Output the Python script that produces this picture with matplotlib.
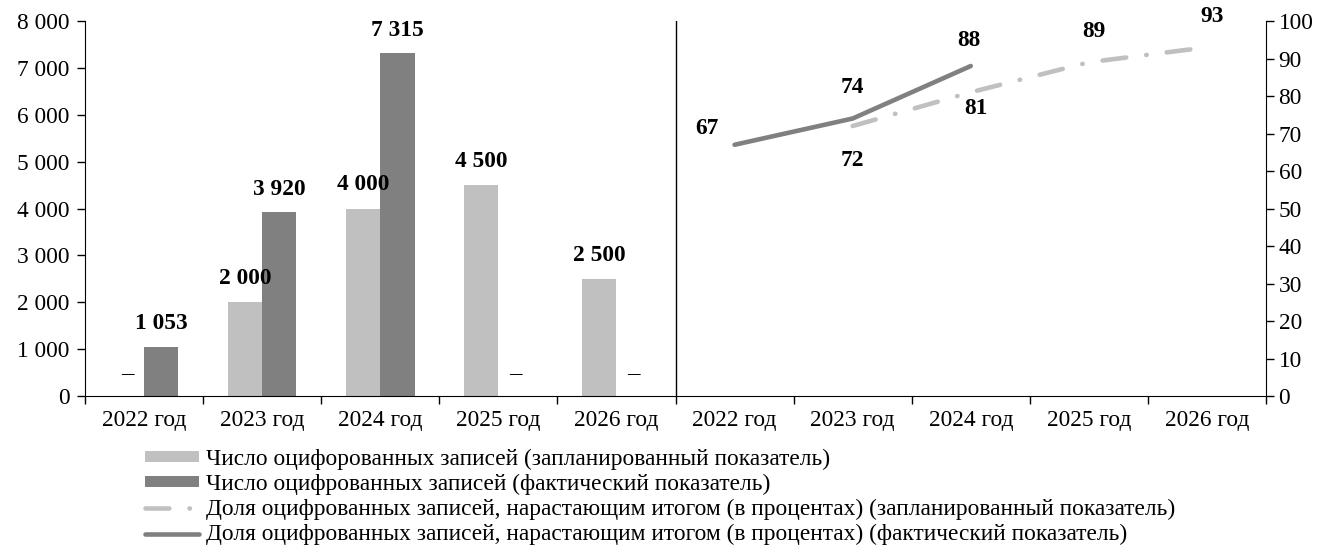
import numpy as np
import matplotlib
matplotlib.use("Agg")
import matplotlib.pyplot as plt
from matplotlib.ticker import FuncFormatter, FixedLocator

plt.rcParams['font.family'] = ['Liberation Serif', 'DejaVu Serif']

years = ["2022 год", "2023 год", "2024 год", "2025 год", "2026 год"]
count_plan = [None, 2000, 4000, 4500, 2500]
count_fact = [1053, 3920, 7315, None, None]
share_plan = [None, 72, 81, 89, 93]
share_fact = [67, 74, 88, None, None]

labels = [
    "Число оцифорованных записей (запланированный показатель)",
    "Число оцифрованных записей (фактический показатель)",
    "Доля оцифрованных записей, нарастающим итогом (в процентах) (запланированный показатель)",
    "Доля оцифрованных записей, нарастающим итогом (в процентах) (фактический показатель)",
]

LIGHT = "#c0c0c0"
DARK = "#808080"
FS = 16.8


def fmt_thousands(v, pos):
    return f"{int(v):,}".replace(",", " ")


def main():
    fig = plt.figure(figsize=(13.2, 5.46), dpi=100)
    ax = fig.add_axes([0.0644, 0.2747, 0.8947, 0.6868])
    ax2 = ax.twinx()

    n = len(years)
    x_bar = np.arange(n)
    w = 0.29

    # bars
    hp = None
    hf = None
    for i in range(n):
        if count_plan[i] is not None:
            hp = ax.bar(x_bar[i] - w / 2, count_plan[i], w, color=LIGHT)
            ax.annotate(fmt_thousands(count_plan[i], None), (x_bar[i] - w / 2, count_plan[i]),
                        xytext=(0, 17), textcoords="offset points", ha="center", va="center",
                        fontsize=FS, fontweight="bold")
        else:
            ax.annotate("–", (x_bar[i] - w / 2, 0), xytext=(0, 16.5), textcoords="offset points",
                        ha="center", va="center", fontsize=FS + 1)
        if count_fact[i] is not None:
            hf = ax.bar(x_bar[i] + w / 2, count_fact[i], w, color=DARK)
            ax.annotate(fmt_thousands(count_fact[i], None), (x_bar[i] + w / 2, count_fact[i]),
                        xytext=(0, 16.5), textcoords="offset points", ha="center", va="center",
                        fontsize=FS, fontweight="bold")
        else:
            ax.annotate("–", (x_bar[i] + w / 2, 0), xytext=(0, 16.5), textcoords="offset points",
                        ha="center", va="center", fontsize=FS + 1)

    # lines on the right half
    x_line = np.arange(n) + n
    xp = [x_line[i] for i in range(n) if share_plan[i] is not None]
    yp = [v for v in share_plan if v is not None]
    xf = [x_line[i] for i in range(n) if share_fact[i] is not None]
    yf = [v for v in share_fact if v is not None]
    lp, = ax2.plot(xp, yp, color=LIGHT, lw=3.3, dashes=(5.2, 4.4, 0.1, 4.4),
                   dash_capstyle="round", solid_capstyle="round")
    lf, = ax2.plot(xf, yf, color=DARK, lw=3.3, solid_capstyle="round")

    # line labels
    offs_plan = {72: (0, -24.5), 81: (3.5, -12), 89: (3.6, 22.5), 93: (3.6, 22.5)}
    for x, y in zip(xp, yp):
        dx, dy = offs_plan[y]
        ax2.annotate(str(y), (x, y), xytext=(dx, dy), textcoords="offset points",
                     ha="center", va="center", fontsize=FS, fontweight="bold")
    offs_fact = {67: (-20, 12), 74: (0, 22), 88: (-1.4, 18.2)}
    for x, y in zip(xf, yf):
        dx, dy = offs_fact[y]
        ax2.annotate(str(y), (x, y), xytext=(dx, dy), textcoords="offset points",
                     ha="center", va="center", fontsize=FS, fontweight="bold")

    # axes
    ax.set_xlim(-0.5, 2 * n - 0.5)
    ax.set_ylim(0, 8000)
    ax2.set_ylim(0, 100)
    ax.set_yticks(np.arange(0, 8001, 1000))
    ax.yaxis.set_major_formatter(FuncFormatter(fmt_thousands))
    ax2.set_yticks(np.arange(0, 101, 10))

    ax.xaxis.set_major_locator(FixedLocator(np.arange(-0.5, 2 * n, 1)))
    ax.xaxis.set_minor_locator(FixedLocator(np.arange(0, 2 * n)))
    ax.set_xticklabels([])
    ax.set_xticklabels(years + years, minor=True)
    ax.tick_params(axis="x", which="major", length=6, direction="out", width=1)
    ax.tick_params(axis="x", which="minor", length=0, labelsize=FS, pad=10)
    ax.tick_params(axis="y", length=6, width=1, labelsize=FS, pad=5)
    ax2.tick_params(axis="y", length=6, width=1, labelsize=FS, pad=3)

    for a in (ax, ax2):
        a.spines["top"].set_visible(False)
    ax.spines["right"].set_visible(False)
    ax2.spines["left"].set_visible(False)
    ax2.spines["bottom"].set_visible(False)
    ax.axvline(n - 0.5, color="black", lw=1)

    fig.legend([hp, hf, lp, lf], labels, loc="upper left", bbox_to_anchor=(0.11, 0.178),
               frameon=False, fontsize=FS, handlelength=2.3, handleheight=0.35,
               handletextpad=0.3, labelspacing=0.17, borderpad=0, borderaxespad=0)

    fig.savefig("out.png", dpi=100)


if __name__ == "__main__":
    main()
